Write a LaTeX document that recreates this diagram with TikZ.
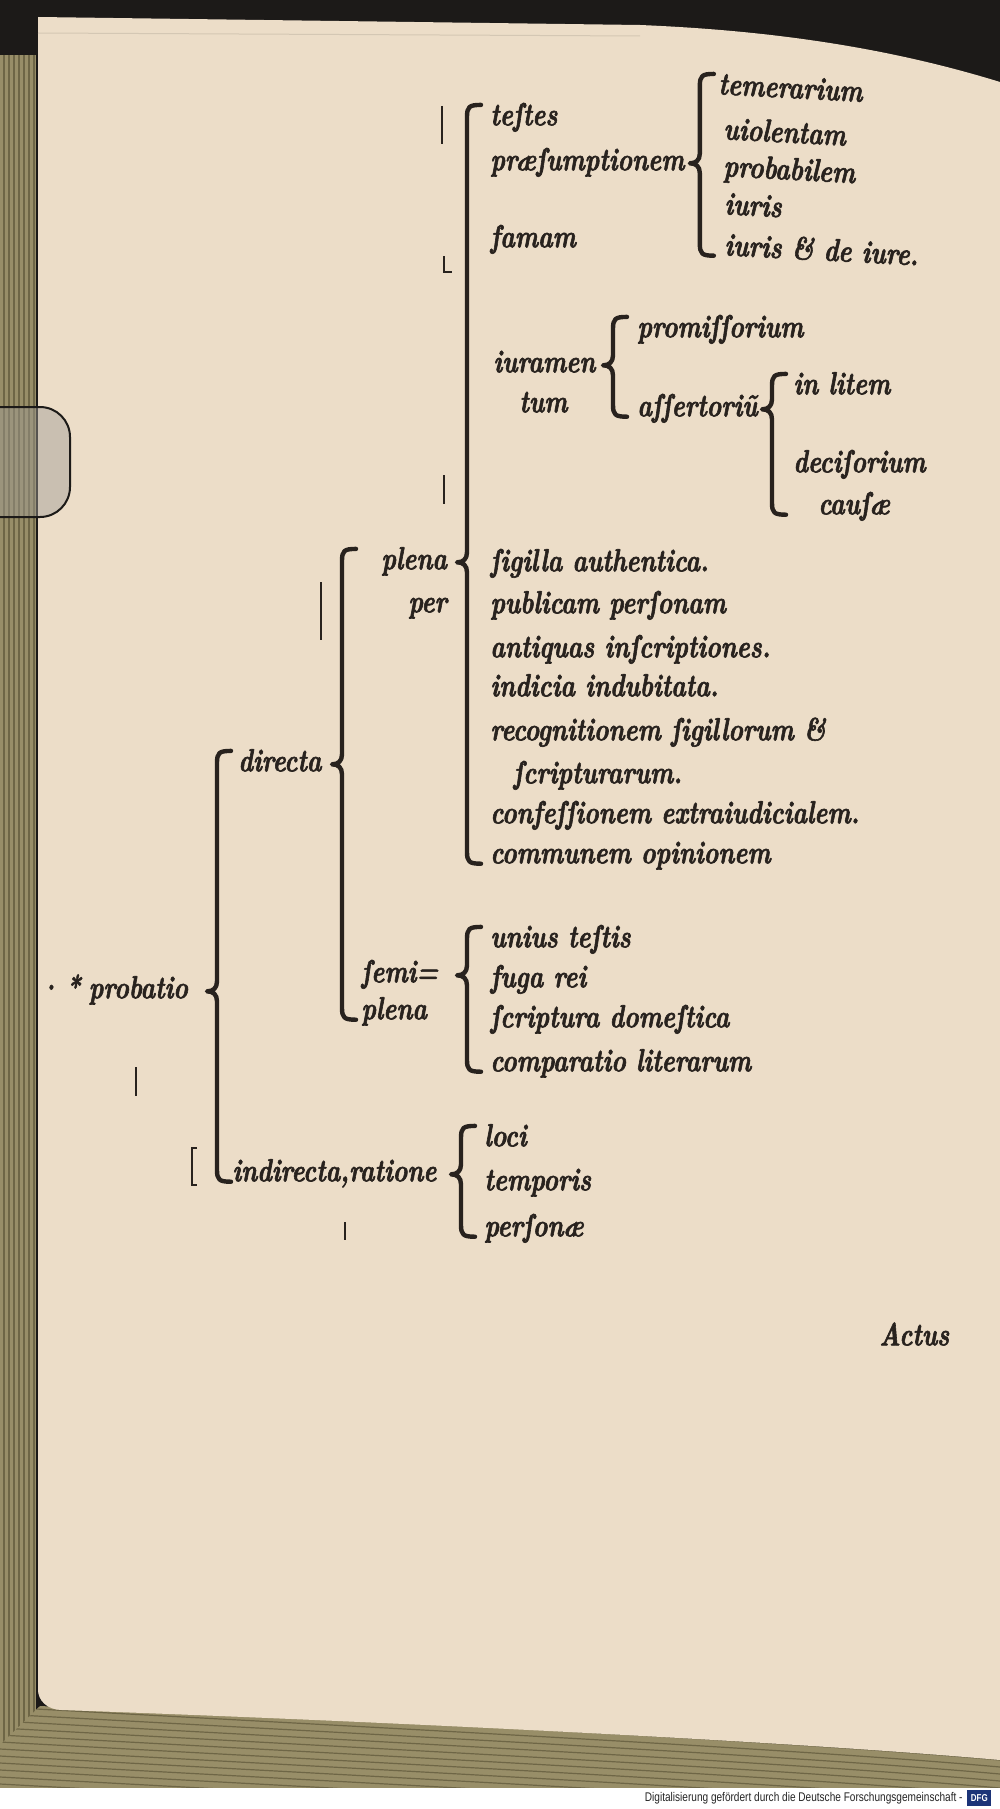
\documentclass[tikz,border=0pt]{standalone}
\usepackage{fontspec}
\usetikzlibrary{calc}
\newfontfamily\typefont{lmroman10-bolditalic.otf}[FakeStretch=0.77,FakeBold=1.8]
\newfontfamily\notefont{Liberation Sans}[FakeStretch=0.8]
\definecolor{ink}{RGB}{40,34,30}
\definecolor{paper}{RGB}{236,221,200}
\definecolor{edge}{RGB}{152,142,104}
\definecolor{edgedark}{RGB}{110,102,70}
\definecolor{night}{RGB}{28,26,24}
\definecolor{dfgblue}{RGB}{28,52,120}
% curly bracket: parent, first child, last child, gap left of first child
\newcommand\curly[4]{%
  \draw[bracket] let \p1=(#2.north west), \p2=(#3.south west), \p3=(#1.east) in
    ({\x1-#4+7pt},\y1) .. controls ({\x1-#4+1pt},\y1) and ({\x1-#4},{\y1-1pt}) .. ({\x1-#4},{\y1-6pt})
    -- ({\x1-#4},{\y3+5pt}) .. controls ({\x1-#4},{\y3+1.5pt}) and ({\x1-#4-2pt},\y3) .. ({\x1-#4-5pt},\y3)
    .. controls ({\x1-#4-2pt},\y3) and ({\x1-#4},{\y3-1.5pt}) .. ({\x1-#4},{\y3-5pt})
    -- ({\x1-#4},{\y2+9pt}) .. controls ({\x1-#4},{\y2+4pt}) and ({\x1-#4+1pt},{\y2+3pt}) .. ({\x1-#4+7pt},{\y2+3pt});}
\begin{document}
\begin{tikzpicture}[x=0.5pt,y=-0.5pt,
    word/.style={font=\typefont\fontsize{16}{18}\selectfont,text=ink,inner sep=0pt,
      text height=10pt,text depth=3pt,anchor=mid west},
    bracket/.style={draw=ink,line width=2.2pt,line cap=round,line join=round},
    stray/.style={draw=ink,line width=1.3pt}]
  \useasboundingbox (0,0) rectangle (1000,1809);
  % book, page edges
  \fill[night] (0,0) rectangle (1000,1809);
  \fill[edge] (0,55) rectangle (36,1790);
  \foreach \x in {4,9,...,34} \draw[edgedark,line width=0.6pt] (\x,55) -- (\x,1790);
  \begin{scope}
    \clip (0,1790) -- (0,1745) -- (40,1706) .. controls (400,1722) and (800,1742) .. (1000,1760) -- (1000,1790) -- cycle;
    \fill[edge] (0,1690) rectangle (1000,1790);
    \foreach \d in {0,7,...,84} \draw[edgedark,line width=0.6pt] (0,1700+\d) .. controls (400,1722+\d) and (800,1742+\d) .. (1000,1760+\d);
  \end{scope}
  \fill[paper] (38,17) -- (640,25) .. controls (760,30) and (880,45) .. (1000,82) -- (1000,1760)
    .. controls (800,1742) and (400,1722) .. (62,1710) .. controls (47,1710) and (38,1700) .. (38,1690) -- cycle;
  \draw[paper!90!black,line width=0.5pt] (38,33) -- (640,36);
  % clip on the left edge
  \filldraw[fill=gray!70!paper,fill opacity=0.45,draw=night,line width=1pt,rounded corners=15pt]
    (-10,407) -- (70,407) -- (70,517) -- (-10,517);
  \fill[white] (0,1788) rectangle (1000,1809);
  \node[font=\notefont\fontsize{6.3}{7}\selectfont,anchor=east,inner sep=0pt,text=black!85] (credit)
    at (963,1798) {Digitalisierung gefördert durch die Deutsche Forschungsgemeinschaft -};
  \node[fill=dfgblue,text=white,font=\notefont\bfseries\fontsize{5}{6}\selectfont,inner sep=1pt,
    minimum width=12pt,minimum height=8pt,anchor=west] (dfg) at (967,1798) {DFG};

  % the table
  \node[word] (probatio) at (38,994) {·\kern3pt*\kern4pt probatio};
  \node[word] (directa) at (238,767) {directa};
  \node[word] (indirecta) at (232,1177) {indirecta,ratione};
  \node[word] (plena) at (381,565) {plena};
  \node[word,anchor=mid east] (per) at ($(plena.mid east)+(0,43)$) {per};
  \node[word] (semi) at (361,978) {ſemi=};
  \node[word] (semib) at (361,1015) {plena};

  \node[word] (testes) at (490,121) {teſtes};
  \node[word] (praes) at (490,166) {præſumptionem};
  \node[word] (famam) at (490,243) {famam};
  \node[word] (iuramen) at (493,368) {iuramen};
  \node[word] (tum) at (519,408) {tum};
  \node[word] (sigilla) at (490,567) {ſigilla authentica.};
  \node[word] (publicam) at (490,609) {publicam perſonam};
  \node[word] (antiquas) at (490,653) {antiquas inſcriptiones.};
  \node[word] (indicia) at (490,692) {indicia indubitata.};
  \node[word] (recog) at (490,736) {recognitionem ſigillorum \&};
  \node[word] (scrip) at (513,779) {ſcripturarum.};
  \node[word] (confess) at (490,819) {confeſſionem extraiudicialem.};
  \node[word] (communem) at (490,859) {communem opinionem};

  \node[word,rotate=-3] (temer) at (718,90) {temerarium};
  \node[word,rotate=-3] (uiol) at (723,135) {uiolentam};
  \node[word,rotate=-3] (probab) at (723,172) {probabilem};
  \node[word,rotate=-3] (iuris) at (724,210) {iuris};
  \node[word,rotate=-3] (iurisde) at (724,251) {iuris \& de iure.};

  \node[word] (promiss) at (637,333) {promiſſorium};
  \node[word] (assert) at (637,412) {aſſertoriũ};
  \node[word] (inlitem) at (793,390) {in litem};
  \node[word] (decis) at (793,468) {deciſorium};
  \node[word] (causae) at (818,510) {cauſæ};

  \node[word] (unius) at (490,943) {unius teſtis};
  \node[word] (fuga) at (490,983) {fuga rei};
  \node[word] (scriptura) at (490,1023) {ſcriptura domeſtica};
  \node[word] (compar) at (490,1067) {comparatio literarum};

  \node[word] (loci) at (484,1142) {loci};
  \node[word] (temporis) at (484,1186) {temporis};
  \node[word] (personae) at (484,1232) {perſonæ};

  \node[word] (catch) at (879,1341) {Actus};

  % brackets
  \curly{probatio}{directa}{indirecta}{10.5pt}
  \curly{directa}{plena}{semib}{19.5pt}
  \curly{plena}{testes}{communem}{11.5pt}
  \curly{praes}{temer}{iurisde}{9.5pt}
  \curly{iuramen}{promiss}{assert}{12pt}
  \curly{assert}{inlitem}{causae}{10.5pt}
  \curly{semi}{unius}{compar}{11.5pt}
  \curly{indirecta}{loci}{personae}{11.5pt}

  % stray marks of the print
  \draw[stray] (442,106) -- (442,144);
  \draw[stray] (444,256) -- (444,272) -- (452,272);
  \draw[stray] (444,475) -- (444,504);
  \draw[stray] (321,582) -- (321,640);
  \draw[stray] (136,1067) -- (136,1096);
  \draw[stray] (197,1148) -- (192,1148) -- (192,1185) -- (197,1185);
  \draw[stray] (345,1222) -- (345,1240);
\end{tikzpicture}
\end{document}
